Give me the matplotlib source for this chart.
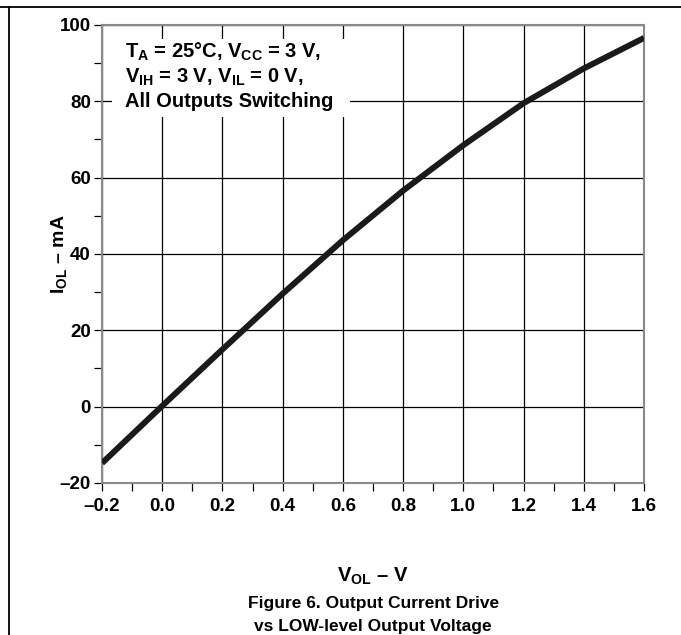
import matplotlib
matplotlib.use('Agg')
import matplotlib.pyplot as plt
from matplotlib.lines import Line2D
from matplotlib.patches import Rectangle
from matplotlib.ticker import MultipleLocator

plt.rcParams['font.family'] = ['Liberation Sans', 'DejaVu Sans']
plt.rcParams['font.weight'] = 'bold'
plt.rcParams['mathtext.fontset'] = 'custom'
plt.rcParams['mathtext.rm'] = 'Liberation Sans:bold'
plt.rcParams['mathtext.bf'] = 'Liberation Sans:bold'
plt.rcParams['mathtext.it'] = 'Liberation Sans:bold'

# curve
vol = [-0.2, 0.0, 0.2, 0.4, 0.6, 0.8, 1.0, 1.2, 1.4, 1.6]
iol = [-14.8, 0.2, 15.0, 29.6, 43.6, 56.6, 68.5, 79.5, 88.6, 96.6]

x_ticks = [-0.2, 0.0, 0.2, 0.4, 0.6, 0.8, 1.0, 1.2, 1.4, 1.6]
y_ticks = [-20, 0, 20, 40, 60, 80, 100]

kondisi = [r'T$_\mathrm{A}$ = 25°C, V$_\mathrm{CC}$ = 3 V,',
           r'V$_\mathrm{IH}$ = 3 V, V$_\mathrm{IL}$ = 0 V,',
           'All Outputs Switching']

fig = plt.figure(figsize=(6.81, 6.35), dpi=100)
ax = fig.add_axes([0.1498, 0.2394, 0.7959, 0.7213])

ax.plot(vol, iol, color='#1a1a1a', lw=4.3, solid_capstyle='butt', zorder=5)

ax.set_xlim(-0.2, 1.6)
ax.set_ylim(-20, 100)
ax.set_xticks(x_ticks)
ax.set_xticklabels([f'{v:.1f}'.replace('-', '–') for v in x_ticks])
ax.set_yticks(y_ticks)
ax.set_yticklabels([str(v).replace('-', '–') for v in y_ticks])
ax.xaxis.set_minor_locator(MultipleLocator(0.1))
ax.yaxis.set_minor_locator(MultipleLocator(10))
ax.grid(True, which='major', color='black', lw=0.9, zorder=1)
ax.set_axisbelow(True)

ax.tick_params(which='both', direction='out', length=6, width=0.9, color='black',
               top=False, right=False)
ax.tick_params(axis='x', labelsize=13.5, pad=5)
ax.tick_params(axis='y', labelsize=13.5, pad=2)
for sp in ax.spines.values():
    sp.set_color('#8a8a8a')
    sp.set_linewidth(1.5)

# white box behind the conditions text
ax.add_patch(Rectangle((0.018, 0.799), 0.44, 0.170, transform=ax.transAxes,
                       facecolor='white', edgecolor='none', zorder=3))
for baris, yy in zip(kondisi, [0.929, 0.875, 0.821]):
    ax.text(0.042, yy, baris, transform=ax.transAxes, fontsize=14.5,
            fontweight='bold', va='baseline', ha='left', zorder=4)

fig.text(0.086, 0.6, r'I$_\mathrm{OL}$ – mA', rotation=90, fontsize=14,
         fontweight='bold', ha='center', va='center')
fig.text(0.548, 0.092, r'V$_\mathrm{OL}$ – V', fontsize=14.5, fontweight='bold',
         ha='center', va='center')
fig.text(0.548, 0.049, 'Figure 6. Output Current Drive', fontsize=12.5,
         fontweight='bold', ha='center', va='center')
fig.text(0.548, 0.013, 'vs LOW-level Output Voltage', fontsize=12.5,
         fontweight='bold', ha='center', va='center')

# page frame lines
fig.add_artist(Line2D([0, 1], [1 - 7 / 635, 1 - 7 / 635], color='black', lw=1.3))
fig.add_artist(Line2D([9 / 681, 9 / 681], [0, 1 - 7 / 635], color='black', lw=1.3))

fig.savefig('out.png', dpi=100)
